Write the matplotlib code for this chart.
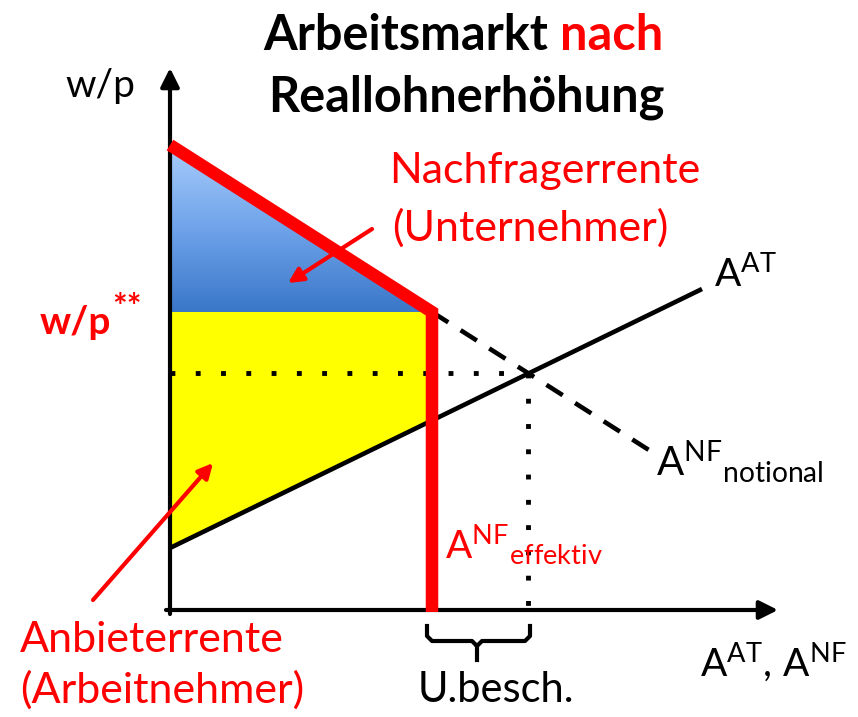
import numpy as np
import matplotlib
matplotlib.use("Agg")
import matplotlib.pyplot as plt
from matplotlib.patches import Polygon
from matplotlib.colors import LinearSegmentedColormap

FONT = 'Lato'
plt.rcParams['font.family'] = [FONT, 'DejaVu Sans']
plt.rcParams['mathtext.fontset'] = 'custom'
plt.rcParams['mathtext.rm'] = FONT
plt.rcParams['mathtext.it'] = FONT
plt.rcParams['mathtext.bf'] = FONT + ':bold'

# ---- diagram geometry (pixel-like diagram units, origin top-left) ----
y_axis_top = 68
x_axis_right = 778
axis_y = 610
axis_x = 170

demand_x = [170, 432]          # effective demand (thick red, upper part)
demand_y = [145, 312]
notional_x = [432, 652]        # dashed continuation
notional_y = [312, 452]
supply_x = [170, 702]          # A^AT
supply_y = [548, 289]
wage_high = 312                # w/p**
eff_x = 432                    # A^NF effektiv vertical
eq_x, eq_y = 528, 373          # equilibrium
supply_at_eff = 420

blue_poly = [(170, 145), (432, 312), (170, 312)]
yellow_poly = [(170, 312), (432, 312), (432, supply_at_eff), (170, 548)]

fig = plt.figure(figsize=(8.58, 7.17), dpi=100)
ax = fig.add_axes([0, 0, 1, 1])
ax.set_xlim(0, 858)
ax.set_ylim(717, 0)
ax.axis('off')

# gradient blue area
grad = np.linspace(0, 1, 256).reshape(-1, 1)
cmap = LinearSegmentedColormap.from_list('b', ['#a8ccfb', '#6fa3ea', '#3a77c8'])
im = ax.imshow(grad, cmap=cmap, extent=[170, 432, 312, 145], aspect='auto', zorder=1)
bp = Polygon(blue_poly, closed=True, facecolor='none', edgecolor='none')
ax.add_patch(bp)
im.set_clip_path(bp)

ax.add_patch(Polygon(yellow_poly, closed=True, facecolor='#ffff00', edgecolor='none', zorder=1))

# dotted lines
ax.plot([axis_x, eq_x], [eq_y, eq_y], color='black', lw=3.5, ls=(0, (1, 4.2)), zorder=2)
ax.plot([eq_x, eq_x], [eq_y, axis_y], color='black', lw=3.5, ls=(0, (1, 4.2)), zorder=2)

# supply line
ax.plot(supply_x, supply_y, color='black', lw=3.3, zorder=3, solid_capstyle='butt')
# notional demand dashed
ax.plot(notional_x, notional_y, color='black', lw=3.3, ls=(0, (4.2, 3.2)), zorder=3)

# axes arrows
ax.annotate('', xy=(axis_x, y_axis_top), xytext=(axis_x, axis_y + 4),
            arrowprops=dict(arrowstyle='-|>', lw=3, color='black', mutation_scale=28,
                            shrinkA=0, shrinkB=0), zorder=4)
ax.annotate('', xy=(x_axis_right, axis_y), xytext=(axis_x - 4, axis_y),
            arrowprops=dict(arrowstyle='-|>', lw=3, color='black', mutation_scale=28,
                            shrinkA=0, shrinkB=0), zorder=4)

# red thick effective demand
ax.plot(demand_x + [eff_x], demand_y + [612], color='#ff0000', lw=9,
        solid_joinstyle='miter', solid_capstyle='butt', zorder=5)

# brace
brace = [(427, 626), (427, 636), (432, 641), (472, 641), (477, 646), (477, 660)]
brace2 = [(477, 646), (482, 641), (525, 641), (530, 636), (530, 626)]
for b in (brace, brace2):
    bx, by = zip(*b)
    ax.plot(bx, by, color='black', lw=3, solid_joinstyle='round', zorder=4)

# red pointer arrows
ax.annotate('', xy=(288, 283), xytext=(372, 229),
            arrowprops=dict(arrowstyle='-|>', lw=3, color='#ff0000', mutation_scale=22,
                            shrinkA=0, shrinkB=0), zorder=6)
ax.annotate('', xy=(213, 463), xytext=(93, 600),
            arrowprops=dict(arrowstyle='-|>', lw=3, color='#ff0000', mutation_scale=22,
                            shrinkA=0, shrinkB=0), zorder=6)

# texts
t1 = ax.text(263, 35, 'Arbeitsmarkt', fontsize=35, fontweight='bold', color='black',
             ha='left', va='center')
t2 = ax.text(40, 322, 'w/p', fontsize=28, fontweight='bold', color='#ff0000',
             ha='left', va='center')
fig.canvas.draw()
inv = ax.transData.inverted()
x_end = inv.transform((t1.get_window_extent().x1, 0))[0]
ax.text(x_end + 12, 35, 'nach', fontsize=35, fontweight='bold', color='#ff0000',
        ha='left', va='center')
x_wp = inv.transform((t2.get_window_extent().x1, 0))[0]
ax.text(x_wp + 1, 308, '**', fontsize=25, fontweight='bold', color='#ff0000',
        ha='left', va='center')
ax.text(466, 97, 'Reallohnerhöhung', fontsize=35, fontweight='bold', color='black',
        ha='center', va='center')

ax.text(100, 86, 'w/p', fontsize=28, color='black', ha='center', va='center')

ax.text(545, 171, 'Nachfragerrente', fontsize=31, color='#ff0000', ha='center', va='center')
ax.text(530, 228, '(Unternehmer)', fontsize=31, color='#ff0000', ha='center', va='center')

ax.text(20, 640, 'Anbieterrente', fontsize=31, color='#ff0000', ha='left', va='center')
ax.text(20, 690, '(Arbeitnehmer)', fontsize=31, color='#ff0000', ha='left', va='center')

ax.text(714, 274, r'$\mathregular{A^{AT}}$', fontsize=28, color='black', ha='left', va='center')
ax.text(656, 462, r'$\mathregular{A^{NF}{}_{notional}}$', fontsize=29, color='black',
        ha='left', va='center')
ax.text(445, 545, r'$\mathregular{A^{NF}{}_{effektiv}}$', fontsize=28, color='#ff0000',
        ha='left', va='center')
ax.text(496, 690, 'U.besch.', fontsize=30, color='black', ha='center', va='center')
ax.text(700, 662, r'$\mathregular{A^{AT},\,A^{NF}}$', fontsize=28, color='black',
        ha='left', va='center')

fig.savefig('out.png', dpi=100)
